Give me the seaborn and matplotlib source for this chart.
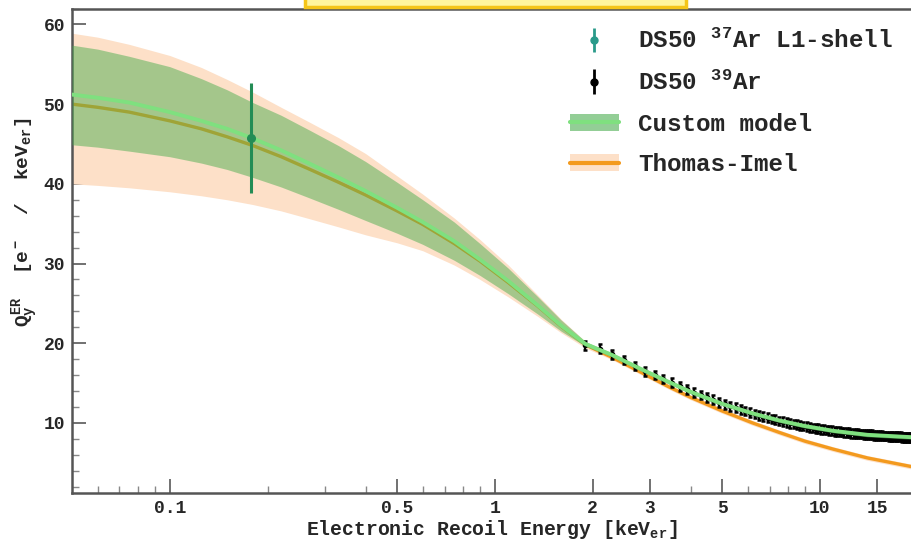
import matplotlib
matplotlib.use("Agg")
import matplotlib.pyplot as plt
from matplotlib.patches import Patch, Rectangle
from matplotlib.lines import Line2D
from matplotlib.ticker import FixedLocator, FixedFormatter, NullFormatter
import pandas as pd
import seaborn as sns

# Model curves sampled on a common energy grid [keV_er]
energy_grid = [0.05, 0.06, 0.075, 0.1, 0.125, 0.15, 0.18, 0.22, 0.27, 0.33,
               0.4, 0.5, 0.6, 0.75, 0.9, 1.1, 1.35, 1.6, 1.9, 2.3,
               2.8, 3.4, 4.0, 5.0, 6.2, 7.5, 9.0, 11.0, 14.0, 19.2]

custom_mid = [51.2, 50.8, 50.2, 49.0, 47.9, 46.9, 45.7, 44.2, 42.5, 40.8,
              39.1, 37.0, 35.2, 32.8, 30.5, 27.8, 24.8, 22.2, 19.9, 18.5,
              16.8, 15.2, 13.9, 12.4, 11.2, 10.3, 9.6, 9.0, 8.5, 8.2]
custom_lo = [44.9, 44.6, 44.1, 43.4, 42.6, 41.8, 40.8, 39.6, 38.2, 36.8,
             35.4, 33.8, 32.4, 30.4, 28.5, 26.2, 23.7, 21.5, 19.6, 18.25,
             16.55, 14.95, 13.65, 12.15, 10.95, 10.05, 9.35, 8.75, 8.25, 7.95]
custom_hi = [57.4, 56.9, 56.0, 54.7, 53.2, 51.8, 50.2, 48.6, 46.7, 44.8,
             42.8, 40.2, 38.0, 35.2, 32.5, 29.4, 25.9, 22.9, 20.2, 18.75,
             17.05, 15.45, 14.15, 12.65, 11.45, 10.55, 9.85, 9.25, 8.75, 8.45]

ti_mid = [50.0, 49.6, 49.0, 47.9, 46.9, 45.9, 44.8, 43.4, 41.8, 40.2,
          38.6, 36.6, 34.9, 32.5, 30.3, 27.6, 24.7, 22.1, 19.8, 18.2,
          16.4, 14.6, 13.2, 11.5, 10.0, 8.8, 7.7, 6.7, 5.6, 4.5]
ti_lo = [40.0, 39.8, 39.5, 39.0, 38.5, 38.0, 37.4, 36.6, 35.6, 34.6,
         33.6, 32.6, 31.6, 29.8, 28.0, 25.8, 23.4, 21.3, 19.4, 17.9,
         16.1, 14.3, 12.9, 11.2, 9.7, 8.5, 7.4, 6.4, 5.3, 4.2]
ti_hi = [58.9, 58.4, 57.5, 56.1, 54.6, 53.1, 51.5, 49.6, 47.7, 45.8,
         43.8, 41.0, 38.7, 35.7, 33.0, 29.8, 26.1, 23.0, 20.2, 18.5,
         16.7, 14.9, 13.5, 11.8, 10.3, 9.1, 8.0, 7.0, 5.9, 4.8]

# DS50 37Ar L1-shell measurement
ar37_energy = [0.178]
ar37_qy = [45.8]
ar37_err = [6.9]

# DS50 39Ar beta spectrum fit points
ar39_energy = [1.9, 2.1, 2.3, 2.5, 2.7, 2.9, 3.1, 3.3, 3.5, 3.7,
               3.9, 4.1, 4.3, 4.5, 4.7, 4.9, 5.1, 5.3, 5.5, 5.7,
               5.9, 6.1, 6.3, 6.5, 6.7, 6.9, 7.1, 7.3, 7.5, 7.7,
               7.9, 8.1, 8.3, 8.5, 8.7, 8.9, 9.1, 9.3, 9.5, 9.7,
               9.9, 10.1, 10.3, 10.5, 10.7, 10.9, 11.1, 11.3, 11.5, 11.7,
               11.9, 12.1, 12.3, 12.5, 12.7, 12.9, 13.1, 13.3, 13.5, 13.7,
               13.9, 14.1, 14.3, 14.5, 14.7, 14.9, 15.1, 15.3, 15.5, 15.7,
               15.9, 16.1, 16.3, 16.5, 16.7, 16.9, 17.1, 17.3, 17.5, 17.7,
               17.9, 18.1, 18.3, 18.5, 18.7, 18.9, 19.1]
ar39_qy = [19.75, 19.3, 18.6, 17.9, 17.15, 16.45, 16.0, 15.5, 15.05, 14.6,
           14.2, 13.8, 13.5, 13.2, 12.9, 12.6, 12.35, 12.1, 11.9, 11.7,
           11.5, 11.3, 11.1, 10.95, 10.8, 10.65, 10.5, 10.4, 10.25, 10.15,
           10.05, 9.95, 9.85, 9.75, 9.65, 9.6, 9.5, 9.45, 9.35, 9.3,
           9.25, 9.2, 9.15, 9.1, 9.05, 9.0, 8.95, 8.9, 8.9, 8.85,
           8.8, 8.8, 8.75, 8.7, 8.7, 8.65, 8.65, 8.6, 8.6, 8.55,
           8.55, 8.5, 8.5, 8.5, 8.45, 8.45, 8.4, 8.4, 8.4, 8.35,
           8.35, 8.35, 8.3, 8.3, 8.3, 8.3, 8.25, 8.25, 8.25, 8.25,
           8.2, 8.2, 8.2, 8.2, 8.2, 8.2, 8.2]
ar39_err = [0.55] * len(ar39_energy)

x_major_ticks = [0.1, 0.5, 1, 2, 3, 5, 10, 15]
x_major_labels = ["0.1", "0.5", "1", "2", "3", "5", "10", "15"]
x_minor_ticks = [0.06, 0.07, 0.08, 0.09, 0.2, 0.3, 0.4, 0.6, 0.7, 0.8, 0.9,
                 4, 6, 7, 8, 9]
y_major_ticks = [10, 20, 30, 40, 50, 60]
y_minor_ticks = [2, 4, 6, 8, 12, 14, 16, 18, 22, 24, 26, 28, 32, 34, 36, 38,
                 42, 44, 46, 48, 52, 54, 56, 58, 62]

GREEN_LINE = "#7fe07f"
GREEN_BAND = "#4cae50"
ORANGE_LINE = "#f39a1e"
PEACH_BAND = "#fde0c8"
AR37_COLOR = "#238c55"

sns.set_theme(style="ticks")
plt.rcParams.update({
    "font.family": ["Liberation Mono", "DejaVu Sans"],
    "font.weight": "bold",
    "mathtext.fontset": "custom",
    "mathtext.rm": "Liberation Mono:bold",
    "mathtext.it": "Liberation Mono:bold",
    "mathtext.bf": "Liberation Mono:bold",
    "axes.edgecolor": "#555555",
})

models = pd.DataFrame({
    "energy": energy_grid,
    "custom": custom_mid,
    "thomas_imel": ti_mid,
})

fig = plt.figure(figsize=(9.12, 5.4), dpi=100)
ax = fig.add_axes([72 / 912, 1 - 493 / 540, 1 - 72 / 912, (493 - 8.5) / 540])

# Thomas-Imel band and curve underneath the custom model band
ax.fill_between(energy_grid, ti_lo, ti_hi, color=PEACH_BAND, lw=0, zorder=1)
sns.lineplot(data=models, x="energy", y="thomas_imel", ax=ax, color=ORANGE_LINE,
             lw=2.4, zorder=2, legend=False)

ax.errorbar(ar39_energy, ar39_qy, yerr=ar39_err, fmt="o", ms=3, color="black",
            ecolor="black", elinewidth=1.6, capsize=1.5, capthick=1.8,
            zorder=3)

ax.fill_between(energy_grid, custom_lo, custom_hi, color=GREEN_BAND, alpha=0.5,
                lw=0, zorder=4)
sns.lineplot(data=models, x="energy", y="custom", ax=ax, color=GREEN_LINE,
             lw=2.8, zorder=5, legend=False)

ax.errorbar(ar37_energy, ar37_qy, yerr=ar37_err, fmt="o", ms=5.5,
            color=AR37_COLOR, ecolor=AR37_COLOR, elinewidth=2.2, capsize=0,
            zorder=6)

ax.set_xscale("log")
ax.set_xlim(0.05, 19.2)
ax.set_ylim(1.2, 62)

ax.xaxis.set_major_locator(FixedLocator(x_major_ticks))
ax.xaxis.set_major_formatter(FixedFormatter(x_major_labels))
ax.xaxis.set_minor_locator(FixedLocator(x_minor_ticks))
ax.xaxis.set_minor_formatter(NullFormatter())
ax.yaxis.set_major_locator(FixedLocator(y_major_ticks))
ax.yaxis.set_minor_locator(FixedLocator(y_minor_ticks))

ax.tick_params(which="major", direction="in", length=10, width=1.3,
               color="#666666", labelsize=13, pad=5, top=False, right=False)
ax.tick_params(which="minor", direction="in", length=5, width=1.0,
               color="#888888", top=False, right=False)
for lab in ax.get_xticklabels() + ax.get_yticklabels():
    lab.set_fontweight("bold")

for side in ("left", "bottom", "top"):
    ax.spines[side].set_linewidth(1.8)
    ax.spines[side].set_color("#555555")
ax.spines["right"].set_visible(False)

ax.set_xlabel("Electronic Recoil Energy [keV$_{er}$]", fontsize=14.2,
              fontweight="bold", labelpad=1)
ax.set_ylabel(r"$Q_y^{ER}$  [e$^-$  /  keV$_{er}$]", fontsize=14,
              fontweight="bold")
ax.yaxis.set_label_coords(-0.038, (493 - 222) / 484.5)

# Legend: data points as error-bar glyphs, models as band + line
h37 = ax.errorbar([], [], yerr=[], fmt="o", ms=5, color="#2a9a8a",
                  ecolor="#2a9a8a", elinewidth=2)
h39 = ax.errorbar([], [], yerr=[], fmt="o", ms=5, color="black",
                  ecolor="black", elinewidth=2)
hcustom = (Patch(facecolor=GREEN_BAND, alpha=0.6, lw=0),
           Line2D([], [], color=GREEN_LINE, lw=3))
hti = (Patch(facecolor=PEACH_BAND, lw=0),
       Line2D([], [], color=ORANGE_LINE, lw=3))
leg = fig.legend([h37, h39, hcustom, hti],
                 ["DS50 $^{37}$Ar L1-shell", "DS50 $^{39}$Ar", "Custom model",
                  "Thomas-Imel"],
                 loc="upper left", bbox_to_anchor=(570 / 912, 1 - 29 / 540),
                 frameon=False, fontsize=17.5, handlelength=2.0,
                 handletextpad=0.8, labelspacing=0.72, borderpad=0,
                 borderaxespad=0)
for t in leg.get_texts():
    t.set_fontweight("bold")

# Highlight box clipped at the top edge of the canvas
fig.patches.append(Rectangle((305 / 912, 1 - 7 / 540), (686 - 305) / 912,
                             30 / 540, transform=fig.transFigure,
                             facecolor="#fff59d", edgecolor="#f5c518", lw=2.5,
                             zorder=10))

fig.savefig("out.png", dpi=100)
